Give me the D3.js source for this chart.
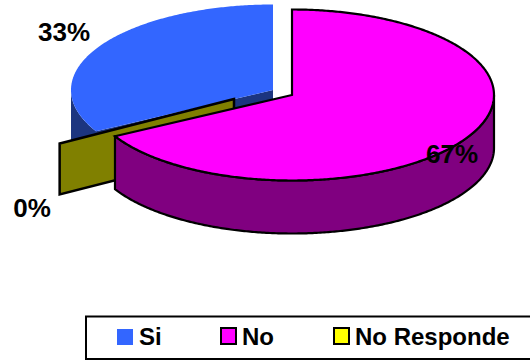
<!DOCTYPE html>
<html>
<head>
<meta charset="utf-8">
<script src="https://cdn.jsdelivr.net/npm/d3@7"></script>
<style>
  html, body { margin: 0; padding: 0; background: #fff; }
  svg { display: block; }
  text { font-family: "Liberation Sans", Arial, sans-serif; font-weight: bold; fill: #000; }
</style>
</head>
<body>
<svg id="chart" width="530" height="360"></svg>
<script>
// Survey answers, in percent
const categories = ["Si", "No", "No Responde"];
const values = [33, 67, 0];
const percentLabels = ["33%", "67%", "0%"];

const topColors = ["#3366ff", "#ff00ff", "#ffff00"];
const wallColors = ["#1c3580", "#800080", "#808000"];
const edgeColors = [null, "#000", "#000"];

// Pulled-out centre of each wedge on the tilted disc
const centers = [[273, 90], [292, 95], [234, 99]];
const labelPositions = [[64, 41], [452, 163], [32, 217]];
const legendX = [117, 220, 333];

const radiusX = 202, radiusY = 85.5, depth = 53;
// The empty wedge shows only its upright face, with its own reach and height
const emptyFace = { kx: 0.985, ky: 1.08, height: 51 };

const svg = d3.select("#chart");

// Wedges run clockwise from twelve o'clock; Si ends exactly at the top
const pie = d3.pie().sort(null).value(d => d)
  .startAngle(-2 * Math.PI * values[0] / d3.sum(values))
  .endAngle(2 * Math.PI - 2 * Math.PI * values[0] / d3.sum(values));
const wedges = pie(values);

const xScale = d3.scaleLinear().domain([-1, 1]).range([-radiusX, radiusX]);
const yScale = d3.scaleLinear().domain([-1, 1]).range([-radiusY, radiusY]);

const rim = (c, angle, drop = 0, kx = 1, ky = 1) => [
  c[0] + kx * xScale(Math.sin(angle)),
  c[1] + ky * yScale(-Math.cos(angle)) + drop
];
const line = d3.line();
const angleSteps = (a, b) => {
  const n = Math.max(1, Math.ceil(Math.abs(b - a) / 0.01));
  return d3.range(n + 1).map(i => a + (b - a) * i / n);
};

function topPath(w, c) {
  const pts = angleSteps(w.startAngle, w.endAngle).map(a => rim(c, a));
  return line([c, ...pts]) + "Z";
}

// Outer wall: only the part of the rim that faces the viewer
function outerWallPath(w, c) {
  const twoPi = 2 * Math.PI;
  let a0 = w.startAngle, a1 = w.endAngle;
  if (a0 < 0) { a0 += twoPi; a1 += twoPi; }
  const lo = Math.max(a0, Math.PI / 2), hi = Math.min(a1, 3 * Math.PI / 2);
  if (hi <= lo) return null;
  const upper = angleSteps(lo, hi).map(a => rim(c, a));
  const lower = angleSteps(hi, lo).map(a => rim(c, a, depth));
  return line([...upper, ...lower]) + "Z";
}

// Flat cut face running from the centre out to the rim at a given angle
function cutFacePath(c, angle, height = depth, kx = 1, ky = 1) {
  const outer = rim(c, angle, 0, kx, ky);
  return line([c, outer, [outer[0], outer[1] + height], [c[0], c[1] + height]]) + "Z";
}

function drawWedge(i, withCut) {
  const w = wedges[i], c = centers[i];
  const g = svg.append("g").attr("class", "wedge");
  const stroke = edgeColors[i] || "none";
  const outer = outerWallPath(w, c);
  if (outer) g.append("path").attr("d", outer).attr("fill", wallColors[i])
    .attr("stroke", stroke).attr("stroke-width", 2.2).attr("stroke-linejoin", "round");
  if (withCut) g.append("path").attr("d", cutFacePath(c, w.startAngle)).attr("fill", wallColors[i])
    .attr("stroke", stroke).attr("stroke-width", 2.2).attr("stroke-linejoin", "miter");
  g.append("path").attr("d", topPath(w, c)).attr("fill", topColors[i])
    .attr("stroke", stroke).attr("stroke-width", 2.2).attr("stroke-linejoin", "miter");
}

// Back to front: Si, then the empty wedge's upright face, then No
drawWedge(0, true);
svg.append("path")
  .attr("d", cutFacePath(centers[2], wedges[2].startAngle, emptyFace.height, emptyFace.kx, emptyFace.ky))
  .attr("fill", wallColors[2]).attr("stroke", "#000").attr("stroke-width", 2.5);
drawWedge(1, false);

// Percentage labels
svg.append("g").selectAll("text").data(percentLabels).join("text")
  .attr("x", (d, i) => labelPositions[i][0])
  .attr("y", (d, i) => labelPositions[i][1])
  .attr("text-anchor", "middle")
  .attr("font-size", 26)
  .text(d => d);

// Legend box, running off the right edge
const legend = svg.append("g");
legend.append("rect")
  .attr("x", 86).attr("y", 316.5).attr("width", 460).attr("height", 42.5)
  .attr("fill", "#fff").attr("stroke", "#000").attr("stroke-width", 2);
const items = legend.selectAll("g").data(categories).join("g")
  .attr("transform", (d, i) => `translate(${legendX[i]},329)`);
items.append("rect")
  .attr("x", (d, i) => edgeColors[i] ? 1 : 0)
  .attr("y", (d, i) => edgeColors[i] ? -1 : 0)
  .attr("width", (d, i) => edgeColors[i] ? 15 : 16)
  .attr("height", 16)
  .attr("fill", (d, i) => topColors[i])
  .attr("stroke", (d, i) => edgeColors[i] || "none")
  .attr("stroke-width", 2);
items.append("text")
  .attr("x", 22).attr("y", 16)
  .attr("font-size", 24)
  .text(d => d);
</script>
</body>
</html>
